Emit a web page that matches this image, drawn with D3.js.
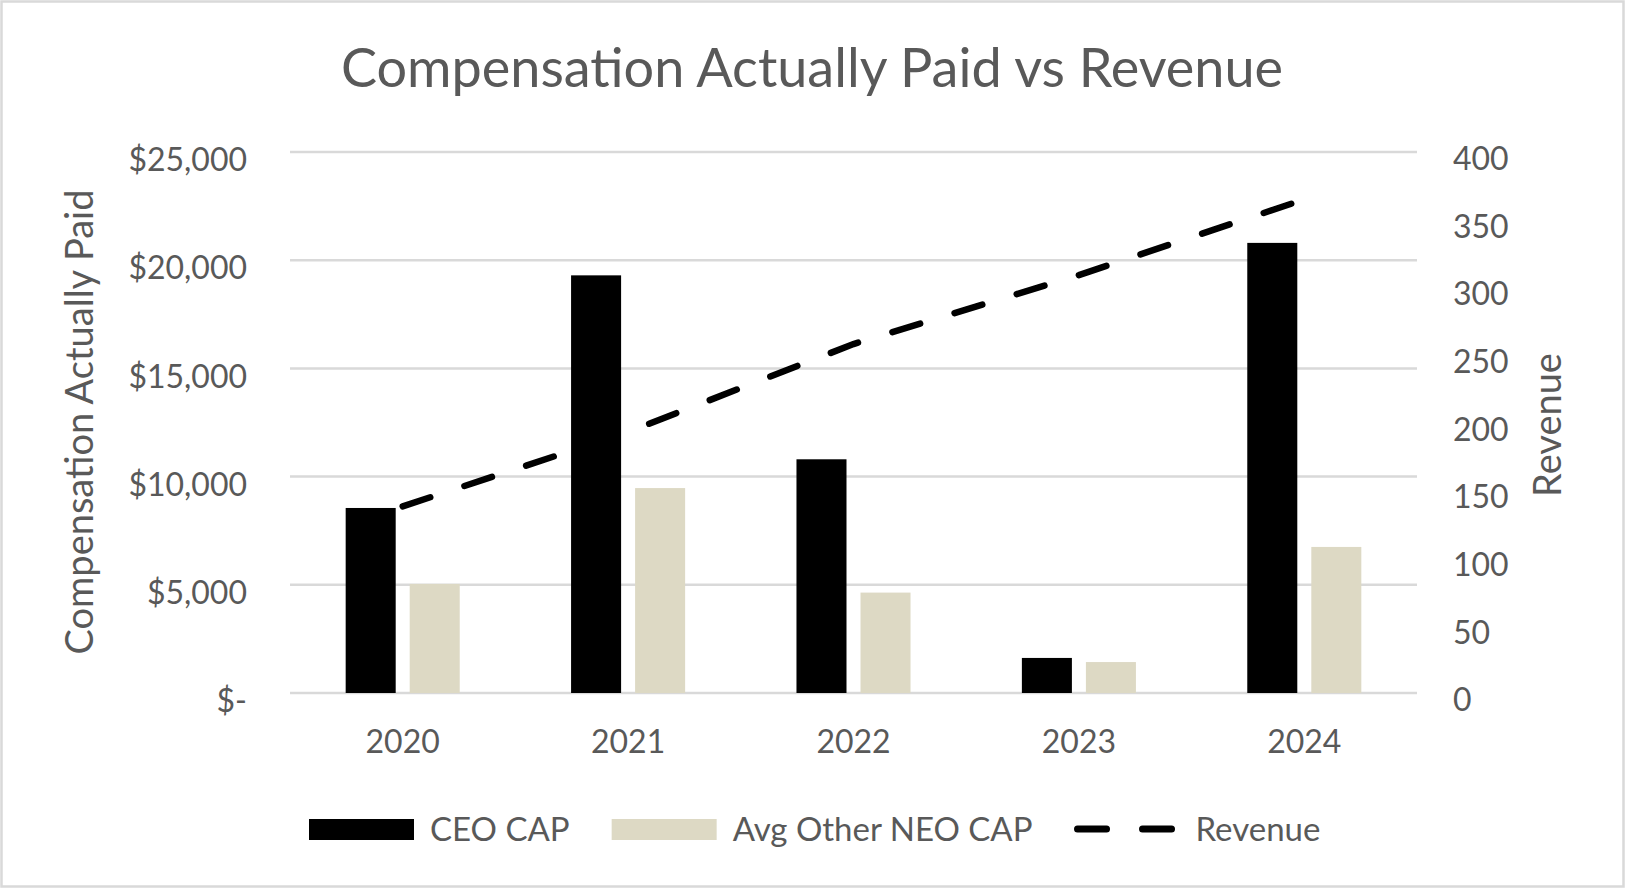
<!DOCTYPE html>
<html>
<head>
<meta charset="utf-8">
<script src="https://cdn.jsdelivr.net/npm/d3@7"></script>
<style>
  body { margin: 0; background: #fff; }
  text { font-family: Lato, "Open Sans", sans-serif; fill: #595959; }
</style>
</head>
<body>
<div id="chart"></div>
<script>
// data
var years = ["2020", "2021", "2022", "2023", "2024"];
var ceoCap = [8550, 19300, 10800, 1620, 20800];
var neoCap = [5040, 9470, 4640, 1430, 6750];
var revenue = [138, 193, 258, 309, 365];
var leftTicks = [0, 5000, 10000, 15000, 20000, 25000];
var rightTicks = [0, 50, 100, 150, 200, 250, 300, 350, 400];
var seriesNames = ["CEO CAP", "Avg Other NEO CAP", "Revenue"];

var W = 1625, H = 888;
var plotLeft = 290, plotRight = 1417, plotTop = 152, plotBottom = 693;

var svg = d3.select("#chart").append("svg").attr("width", W).attr("height", H);

svg.append("rect")
    .attr("x", 1.5).attr("y", 1.5).attr("width", W - 3).attr("height", H - 3)
    .attr("fill", "#fff").attr("stroke", "#d9d9d9").attr("stroke-width", 2.5);

// scales
var x0 = d3.scaleBand().domain(years).range([plotLeft, plotRight])
    .paddingInner(0.494).paddingOuter(0.247);
var x1 = d3.scaleBand().domain(["ceo", "neo"]).range([0, x0.bandwidth()])
    .paddingInner(0.21875);
var y = d3.scaleLinear().domain([0, 25000]).range([plotBottom, plotTop]);
var y2 = d3.scaleLinear().domain([0, 400]).range([plotBottom, plotTop]);

// gridlines
svg.append("g").selectAll("line")
    .data(leftTicks)
    .enter().append("line")
      .attr("x1", plotLeft).attr("x2", plotRight)
      .attr("y1", function (d) { return y(d); })
      .attr("y2", function (d) { return y(d); })
      .attr("stroke", "#d9d9d9").attr("stroke-width", 2.5);

// left axis labels
svg.append("g").selectAll("text")
    .data(leftTicks)
    .enter().append("text")
      .attr("x", 247)
      .attr("y", function (d) { return y(d) + 8; })
      .attr("dy", "0.35em")
      .attr("text-anchor", "end")
      .style("font-size", "32px")
      .text(function (d) { return d === 0 ? "$-" : "$" + d3.format(",")(d); });

// right axis labels
svg.append("g").selectAll("text")
    .data(rightTicks)
    .enter().append("text")
      .attr("x", 1453)
      .attr("y", function (d) { return y2(d) + 7; })
      .attr("dy", "0.35em")
      .style("font-size", "32px")
      .text(function (d) { return d; });

// x labels
svg.append("g").selectAll("text")
    .data(years)
    .enter().append("text")
      .attr("x", function (d) { return x0(d) + x0.bandwidth() / 2; })
      .attr("y", 753)
      .attr("text-anchor", "middle")
      .style("font-size", "32px")
      .text(function (d) { return d; });

// bars
var groups = svg.append("g").selectAll("g")
    .data(years)
    .enter().append("g")
      .attr("transform", function (d) { return "translate(" + x0(d) + ",0)"; });

groups.append("rect")
    .attr("x", x1("ceo"))
    .attr("width", x1.bandwidth())
    .attr("y", function (d, i) { return y(ceoCap[i]); })
    .attr("height", function (d, i) { return y(0) - y(ceoCap[i]); })
    .attr("fill", "#000");

groups.append("rect")
    .attr("x", x1("neo"))
    .attr("width", x1.bandwidth())
    .attr("y", function (d, i) { return y(neoCap[i]); })
    .attr("height", function (d, i) { return y(0) - y(neoCap[i]); })
    .attr("fill", "#ddd9c4");

// revenue line
var line = d3.line()
    .x(function (d, i) { return x0(years[i]) + x0.bandwidth() / 2; })
    .y(function (d) { return y2(d); });

svg.append("path")
    .datum(revenue)
    .attr("d", line)
    .attr("fill", "none")
    .attr("stroke", "#000")
    .attr("stroke-width", 6.5)
    .attr("stroke-linecap", "round")
    .attr("stroke-dasharray", "29,36");

// title
svg.append("text")
    .attr("x", 812).attr("y", 87)
    .attr("text-anchor", "middle")
    .style("font-size", "54px")
    .text("Compensation Actually Paid vs Revenue");

// axis titles
svg.append("text")
    .attr("transform", "translate(93,422) rotate(-90)")
    .attr("text-anchor", "middle")
    .style("font-size", "38px")
    .text("Compensation Actually Paid");

svg.append("text")
    .attr("transform", "translate(1561,425) rotate(-90)")
    .attr("text-anchor", "middle")
    .style("font-size", "38px")
    .text("Revenue");

// legend
var legend = svg.append("g");
var lx = 309, ly = 829;
seriesNames.forEach(function (name, i) {
  if (i < 2) {
    legend.append("rect")
        .attr("x", lx).attr("y", ly - 10).attr("width", 105).attr("height", 21)
        .attr("fill", i === 0 ? "#000" : "#ddd9c4");
  } else {
    legend.append("line")
        .attr("x1", lx + 3).attr("x2", lx + 102)
        .attr("y1", ly).attr("y2", ly)
        .attr("stroke", "#000").attr("stroke-width", 7)
        .attr("stroke-linecap", "round")
        .attr("stroke-dasharray", "29,36");
  }
  var t = legend.append("text")
      .attr("x", lx + 121).attr("y", ly)
      .attr("dy", "0.35em")
      .style("font-size", "33px")
      .text(name);
  lx = lx + 121 + t.node().getComputedTextLength() + 42;
});
</script>
</body>
</html>
